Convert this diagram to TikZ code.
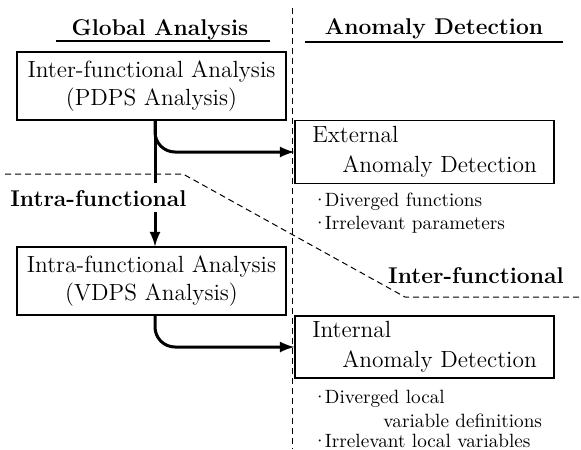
\documentclass[tikz,border=0pt]{standalone}
\usetikzlibrary{calc}
\tikzset{
  box/.style={draw, line width=0.6pt, inner sep=0pt, font=\fontsize{11.7}{14}\selectfont},
  head/.style={font=\fontsize{11.4}{13}\selectfont\bfseries, inner sep=0pt},
  item/.style={anchor=west, inner sep=0pt, font=\fontsize{9.6}{12}\selectfont},
  flow/.style={line width=1.5pt, -latex},
  border/.style={line width=0.5pt, dash pattern=on 3pt off 2pt}
}
\begin{document}
\begin{tikzpicture}[x=0.5pt,y=-0.5pt]
\useasboundingbox (0,0) rectangle (581,449);
% borders
\draw[border] (292,8) -- (292,449);
\draw[border] (5,174) -- (183,174) -- (405,297) -- (581,297);
% headings
\node[head] (global) at (160,30) {Global Analysis};
\draw[line width=0.8pt] (56,41) -- (270,41);
\node[head] (anomaly) at (434,29) {Anomaly Detection};
\draw[line width=0.8pt] (305,42) -- (563,42);
\node[head, anchor=west] (intra) at (10,199) {Intra-functional};
\node[head, anchor=east] (inter) at (564,276) {Inter-functional};
% analysis boxes
\node[box, minimum width=134.5pt, minimum height=34pt, align=center] (pdps) at (151.5,86)
  {Inter-functional Analysis\\(PDPS Analysis)};
\node[box, minimum width=134.5pt, minimum height=34pt, align=center] (vdps) at (151.5,281)
  {Intra-functional Analysis\\(VDPS Analysis)};
% detection boxes
\node[box, minimum width=129.5pt, minimum height=31.5pt, align=left] (ext) at (424.5,152)
  {External\\[1pt]\hspace*{15pt}Anomaly Detection};
\node[box, minimum width=129.5pt, minimum height=31pt, align=left] (int) at (424.5,347)
  {Internal\\[1pt]\hspace*{15pt}Anomaly Detection};
% findings
\node[item] (fn) at (312,202) {\textperiodcentered\kern-1.2pt Diverged functions};
\node[item] (par) at (312,225) {\textperiodcentered\kern-1.2pt Irrelevant parameters};
\node[item] (loc) at (312,399) {\textperiodcentered\kern-1.2pt Diverged local};
\node[item] (def) at (383,421) {variable definitions};
\node[item] (var) at (312,441) {\textperiodcentered\kern-1.2pt Irrelevant local variables};
% flows
\coordinate (stem) at (155,183);
\coordinate (tail) at (155,212);
\draw[line width=1.5pt] ([xshift=1.75pt]pdps.south) -- (stem);
\draw[flow, rounded corners=10pt] ([xshift=1.75pt]pdps.south) |- (ext.west);
\draw[flow] (tail) -- ([xshift=1.75pt]vdps.north);
\draw[flow, rounded corners=10pt] ([xshift=1.75pt]vdps.south) |- (int.west);
\end{tikzpicture}
\end{document}
